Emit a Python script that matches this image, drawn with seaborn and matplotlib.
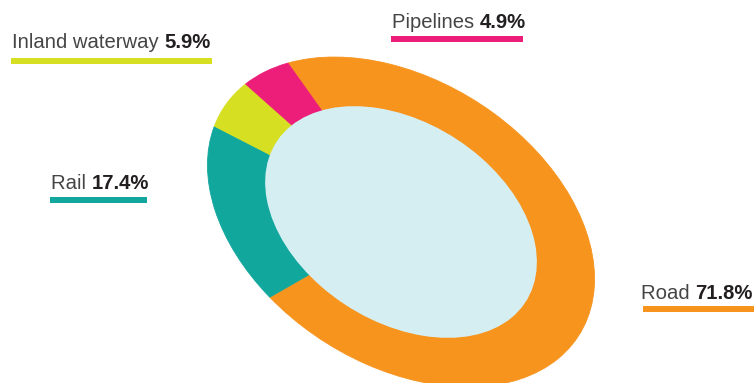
import matplotlib
matplotlib.use("Agg")
import matplotlib.pyplot as plt
import seaborn as sns
from matplotlib.transforms import Affine2D
from matplotlib.patches import Circle, Rectangle

# ---- data ----
categories = ["Road", "Rail", "Inland waterway", "Pipelines"]
shares = [71.8, 17.4, 5.9, 4.9]
value_labels = ["71.8%", "17.4%", "5.9%", "4.9%"]
colors = ["#F7941E", "#12A79D", "#D6DF22", "#ED1E7A"]

sns.set_theme(style="white")
plt.rcParams["font.family"] = ["Liberation Sans", "DejaVu Sans"]

W, H = 754, 383
fig = plt.figure(figsize=(W / 100, H / 100), dpi=100)
ax = fig.add_axes([0, 0, 1, 1])

palette = sns.color_palette(colors)
ring = 0.30
wedges, _ = ax.pie(shares, colors=palette, startangle=243.5, counterclock=True,
                   radius=1.0, wedgeprops=dict(width=ring, linewidth=0))

# tilted ellipse layout (pixel space, y down)
cx, cy = 401.0, 222.0
tilt = Affine2D.from_values(191.0, 31.2, 31.2, 162.0, cx, cy)
for w, col in zip(wedges, palette):
    w.set_transform(tilt + ax.transData)
    w.set_edgecolor(col)
    w.set_linewidth(0.6)
hole = Circle((0, 0), 1.0 - ring + 0.002, facecolor="#D5EEF2", edgecolor="none",
              transform=tilt + ax.transData)
ax.add_patch(hole)

ax.set_aspect("auto")
ax.set_xlim(0, W)
ax.set_ylim(H, 0)
ax.axis("off")

# labels: (text x, baseline y, bar x, bar y, bar x end)
label_layout = {
    "Road": (641, 299, 643, 306, 754),
    "Rail": (51, 189, 50, 196.5, 147),
    "Inland waterway": (12, 48, 11, 57.5, 212),
    "Pipelines": (392, 28, 391, 36, 523),
}
fs = 14.6
for cat, val, col in zip(categories, value_labels, palette):
    tx, yb, bx, ybar, xend = label_layout[cat]
    t1 = ax.text(tx, yb, cat + " ", fontsize=fs, color="#454545", va="baseline", ha="left")
    ax.annotate(val, xy=(1, 0), xycoords=t1, va="bottom", ha="left",
                fontsize=fs, fontweight="bold", color="#231F20")
    ax.add_patch(Rectangle((bx, ybar), xend - bx, 6, facecolor=col, edgecolor="none"))

fig.savefig("out.png", dpi=100)
